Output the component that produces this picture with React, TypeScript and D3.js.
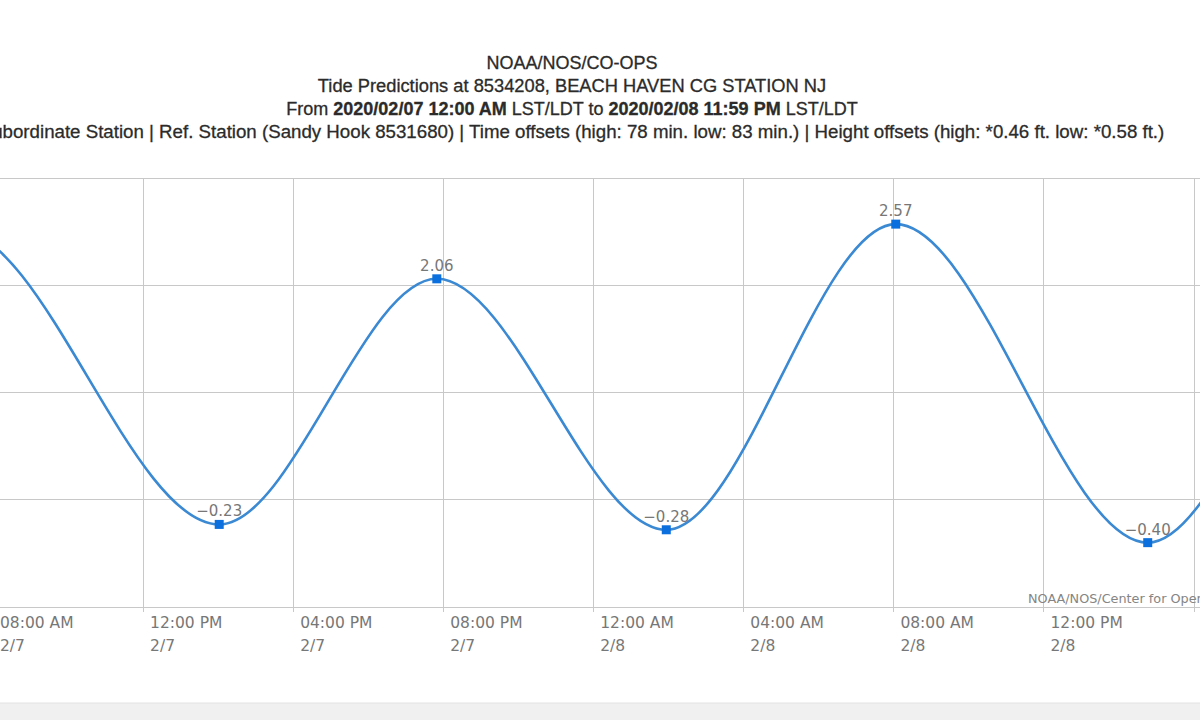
import * as d3 from "d3";

// high / low tide predictions (ft, MLLW);
// first and last entries sit just outside the visible window
const tideTimes = [
  "2020-02-07T00:55",
  "2020-02-07T07:00",
  "2020-02-07T14:01",
  "2020-02-07T19:49",
  "2020-02-08T01:56",
  "2020-02-08T08:03",
  "2020-02-08T14:46",
  "2020-02-08T20:30",
  "2020-02-09T02:40",
];
const tideHeights = [-0.18, 2.52, -0.23, 2.06, -0.28, 2.57, -0.4, 2.05, -0.3];
const yTicks = [-1, 0, 1, 2, 3];
const xDomain = ["2020-02-07T08:00", "2020-02-08T16:00"];

const titleLines = [
  "NOAA/NOS/CO-OPS",
  "Tide Predictions at 8534208, BEACH HAVEN CG STATION NJ",
];
const subtitle =
  "Subordinate Station | Ref. Station (Sandy Hook 8531680) | Time offsets (high: 78 min. low: 83 min.) | Height offsets (high: *0.46 ft. low: *0.58 ft.)";
const credits = "NOAA/NOS/Center for Operational Oceanographic Products and Services";

const width = 1200;
const height = 720;
const plotTop = 178;
const plotBottom = 607;
const titleX = 572;

const parse = d3.timeParse("%Y-%m-%dT%H:%M");
const noSelect = {
  msUserSelect: "none",
  WebkitUserSelect: "none",
  userSelect: "none",
};

export default function App() {
  const data = tideTimes.map((t, i) => ({ date: parse(t), value: tideHeights[i] }));

  const xScale = d3
    .scaleTime()
    .domain(xDomain.map((d) => parse(d)))
    .range([-6.5, 1194]);
  const yScale = d3.scaleLinear().domain([-1, 3]).range([plotBottom, plotTop]);

  const line = d3
    .line()
    .x((d) => xScale(d.date))
    .y((d) => yScale(d.value))
    .curve(d3.curveMonotoneX);

  const xTicks = xScale.ticks(d3.timeHour.every(4));
  const fmtTime = d3.timeFormat("%I:%M %p");
  const fmtDay = d3.timeFormat("%-m/%-d");
  const fmtVal = d3.format(".2f");

  return (
    <svg
      width={width}
      height={height}
      style={{ position: "absolute", left: 0, top: 0, background: "#fff", ...noSelect }}
    >
      <rect x={0} y={0} width={width} height={height} fill="#fff" />

      {/* titles */}
      <g
        fontFamily="'Liberation Sans', Arial, sans-serif"
        fill="#2b2b2b"
        stroke="#2b2b2b"
        strokeWidth="0.3"
        textAnchor="middle"
      >
        <text x={titleX} y={69} fontSize="18">
          {titleLines[0]}
        </text>
        <text x={titleX} y={92} fontSize="18.3">
          {titleLines[1]}
        </text>
        <text x={titleX} y={115} fontSize="18">
          From <tspan fontWeight="bold">2020/02/07 12:00 AM</tspan> LST/LDT to{" "}
          <tspan fontWeight="bold">2020/02/08 11:59 PM</tspan> LST/LDT
        </text>
        <text x={titleX} y={138} fontSize="18.7">
          {subtitle}
        </text>
      </g>

      {/* grid */}
      <g stroke="#c8c8c8" strokeWidth="1" shapeRendering="crispEdges">
        {yTicks.map((v) => (
          <line key={v} x1={0} x2={width} y1={yScale(v)} y2={yScale(v)} />
        ))}
        {xTicks.map((d, i) => (
          <line key={i} x1={xScale(d)} x2={xScale(d)} y1={plotTop} y2={plotBottom + 5} />
        ))}
      </g>

      {/* x axis labels */}
      <g fontFamily="'DejaVu Sans', Verdana, sans-serif" fontSize="15.5" fill="#777">
        {xTicks.map((d, i) => (
          <text key={i} x={xScale(d) + 6.5} y={628}>
            <tspan x={xScale(d) + 6.5}>{fmtTime(d)}</tspan>
            <tspan x={xScale(d) + 6.5} dy={23}>
              {fmtDay(d)}
            </tspan>
          </text>
        ))}
      </g>

      <text
        x={1028}
        y={603}
        fontFamily="'DejaVu Sans', Verdana, sans-serif"
        fontSize="12.8"
        fill="#858585"
      >
        {credits}
      </text>

      {/* tide curve */}
      <path d={line(data)} fill="none" stroke="#3a89d2" strokeWidth="2.6" />

      {data.map((d, i) => {
        const x = xScale(d.date);
        const y = yScale(d.value);
        return (
          <g key={i}>
            <rect x={x - 4.5} y={y - 4.5} width={9} height={9} fill="#0b70dd" />
            <text
              x={x}
              y={y - 8}
              textAnchor="middle"
              fontFamily="'DejaVu Sans', Verdana, sans-serif"
              fontSize="15"
              fill="#777"
            >
              {fmtVal(d.value)}
            </text>
          </g>
        );
      })}

      {/* page footer band */}
      <rect x={0} y={703} width={width} height={17} fill="#f0f0f0" />
      <line x1={0} x2={width} y1={703} y2={703} stroke="#e2e2e2" />
    </svg>
  );
}
